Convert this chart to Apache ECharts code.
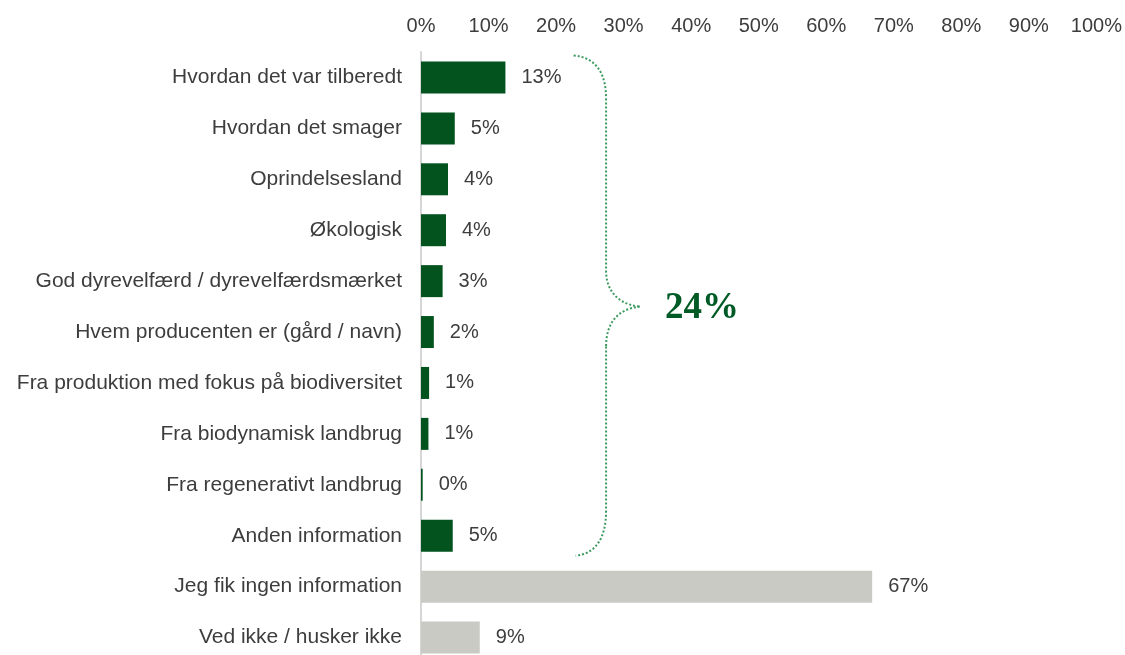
<!DOCTYPE html>
<html>
<head>
<meta charset="utf-8">
<script src="https://cdn.jsdelivr.net/npm/echarts@6/dist/echarts.min.js"></script>
<style>
  html, body { margin: 0; padding: 0; background: #fff; overflow: hidden; }
  /* last row runs a little past the bottom edge, as in the original */
  #chart { width: 1125px; height: 663px; }
</style>
</head>
<body>
<div id="chart"></div>
<script>
// data (percent)
const categories = [
  'Hvordan det var tilberedt',
  'Hvordan det smager',
  'Oprindelsesland',
  'Økologisk',
  'God dyrevelfærd / dyrevelfærdsmærket',
  'Hvem producenten er (gård / navn)',
  'Fra produktion med fokus på biodiversitet',
  'Fra biodynamisk landbrug',
  'Fra regenerativt landbrug',
  'Anden information',
  'Jeg fik ingen information',
  'Ved ikke / husker ikke'
]
const values = [12.5, 5.0, 4.0, 3.7, 3.2, 1.9, 1.2, 1.1, 0.25, 4.7, 66.8, 8.7]
const xTicks = [0, 10, 20, 30, 40, 50, 60, 70, 80, 90, 100]
const bracketTotal = '24%'
const bracketCount = 10 // first 10 rows are grouped by the brace

const GREEN = '#03531f'
const GREY = '#cacac4'
const TEXT = '#3d3d3d'
const FONT = '"Liberation Sans", Arial, sans-serif'

const chart = echarts.init(document.getElementById('chart'))

chart.setOption({
  animation: false,
  grid: {
    left: 421,
    right: 26,
    top: 52,
    bottom: 0
  },
  xAxis: {
    type: 'value',
    position: 'top',
    min: xTicks[0],
    max: xTicks[xTicks.length - 1],
    interval: 10,
    axisLine: { show: false },
    axisTick: { show: false },
    splitLine: { show: false },
    axisLabel: {
      formatter: '{value}%',
      color: TEXT,
      fontSize: 20,
      fontFamily: FONT,
      margin: 16
    }
  },
  yAxis: {
    type: 'category',
    inverse: true,
    data: categories,
    axisLine: { show: true, lineStyle: { color: '#d6d6d6', width: 2 } },
    axisTick: { show: false },
    axisLabel: {
      color: TEXT,
      fontSize: 21,
      fontFamily: FONT,
      margin: 19
    }
  },
  series: [
    {
      type: 'bar',
      barWidth: 32,
      data: values.map((v, i) => ({
        value: v,
        itemStyle: { color: i < bracketCount ? GREEN : GREY }
      })),
      label: {
        show: true,
        position: 'right',
        distance: 16,
        color: TEXT,
        fontSize: 20,
        fontFamily: FONT,
        formatter: p => Math.round(p.value) + '%'
      }
    }
  ]
})

// dotted curly brace + total, placed through the axes
const px = v => chart.convertToPixel({ xAxisIndex: 0 }, v)
const py = c => chart.convertToPixel({ yAxisIndex: 0 }, c)

const yTop = py(categories[0]) - 22
const yBot = py(categories[bracketCount - 1]) + 20
const yMid = (py(categories[4]) + py(categories[5])) / 2
const xTip = px(22.6)
const xStem = px(27.4)
const xPoint = px(32.4)

const braceStyle = {
  fill: null,
  stroke: '#3c9a5f',
  lineWidth: 2,
  lineDash: [2, 2]
}
const curve = (x1, y1, cx1, cy1, cx2, cy2, x2, y2) => ({
  type: 'bezierCurve',
  shape: { x1, y1, cpx1: cx1, cpy1: cy1, cpx2: cx2, cpy2: cy2, x2, y2 },
  style: braceStyle,
  silent: true
})
const line = (x1, y1, x2, y2) => ({
  type: 'line',
  shape: { x1, y1, x2, y2 },
  style: braceStyle,
  silent: true
})

chart.setOption({
  graphic: [
    curve(xTip, yTop, xStem - 10, yTop + 2, xStem, yTop + 18, xStem, yTop + 43),
    line(xStem, yTop + 43, xStem, yMid - 36),
    curve(xStem, yMid - 36, xStem, yMid - 14, xStem + 14, yMid - 2, xPoint, yMid),
    curve(xPoint, yMid, xStem + 14, yMid + 2, xStem, yMid + 14, xStem, yMid + 40),
    line(xStem, yMid + 40, xStem, yBot - 45),
    curve(xStem, yBot - 45, xStem, yBot - 18, xStem - 10, yBot - 2, xTip + 2, yBot),
    {
      type: 'text',
      x: px(41.6),
      y: yMid + 2,
      style: {
        text: bracketTotal,
        fill: '#005a25',
        font: 'bold 37px "Liberation Serif", "Times New Roman", serif',
        align: 'center',
        verticalAlign: 'middle'
      },
      silent: true
    }
  ]
})
</script>
</body>
</html>
